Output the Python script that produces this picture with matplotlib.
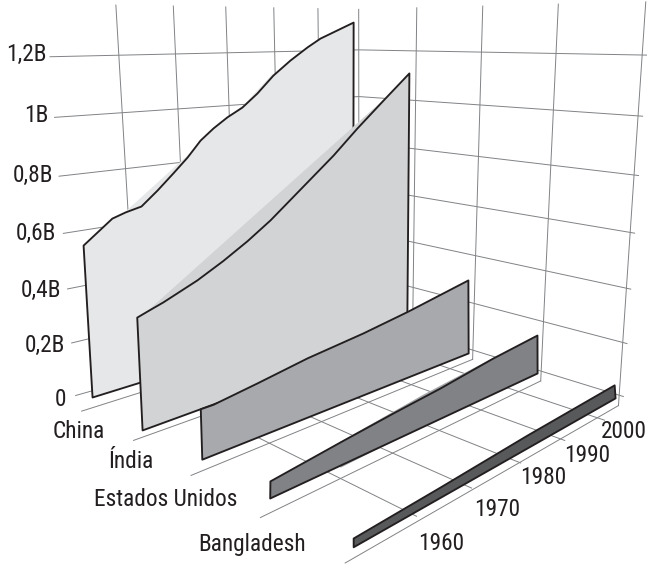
import numpy as np
import matplotlib
matplotlib.use("Agg")
import matplotlib.pyplot as plt
from mpl_toolkits.mplot3d import Axes3D
from mpl_toolkits.mplot3d.art3d import Poly3DCollection

# ---------- data ----------
china_years = [1950.7, 1955.7, 1958.0, 1960.8, 1963.8, 1966.8, 1969.6, 1972.2, 1974.8, 1977.6, 1980.7, 1983.9, 1987.4, 1991.2, 1995.1, 1998.1, 2002.1, 2006.1]
china_values = [0.562, 0.641, 0.656, 0.669, 0.719, 0.774, 0.827, 0.885, 0.926, 0.963, 0.996, 1.046, 1.112, 1.168, 1.218, 1.252, 1.284, 1.316]
india_years = [1950.6, 1952.5, 1954.9, 1960.8, 1965.5, 1970.1, 1974.6, 1981.3, 1987.8, 1993.1, 1999.2, 2005.4]
india_values = [0.378, 0.392, 0.409, 0.459, 0.508, 0.562, 0.622, 0.726, 0.827, 0.919, 1.018, 1.117]
usa_years = [1950.8, 1952.8, 1960.2, 1969.3, 1980.4, 1990.1, 2004.9]
usa_values = [0.161, 0.162, 0.186, 0.218, 0.246, 0.277, 0.333]
other_years = [1950.7, 1962.3, 1972.0, 1981.6, 1993.6, 2004.6]
other_values = [0.047, 0.080, 0.106, 0.129, 0.165, 0.190]
bangladesh_years = [1950.8, 1965.2, 1982.6, 2003.8]
bangladesh_values = [0.011, 0.034, 0.065, 0.096]

series_years = [china_years, india_years, usa_years, other_years, bangladesh_years]
series_values = [china_values, india_values, usa_values, other_values, bangladesh_values]
base_years = [(1950.4, 2005.8), (1950.4, 2005.6), (1950.7, 2005.5), (1950.6, 2005.1), (1950.8, 2004.3)]
base_values = [(0.003, 0.03), (-0.015, 0.03), (-0.005, 0.029), (-0.005, 0.039), (-0.014, 0.045)]
fills = ["#e6e7e8", "#d1d3d4", "#a7a9ac", "#808285", "#58595b"]

# far side of the ribbons, seen above the front edge: (index, years, values, colour)
back_faces = [
    (0, [1958.0, 1980.7], [0.656, 1.0], "#e6e7e8"),
    (0, [1980.7, 1987.4], [0.996, 1.118], "#e6e7e8"),
    (1, [1952.5, 1999.2], [0.392, 1.018], "#d1d3d4"),
    (3, [1962.3, 1978.0, 1993.6], [0.080, 0.128, 0.165], "#a3a5a8"),
]

value_ticks = [0, 0.2, 0.4, 0.6, 0.8, 1.0, 1.2]
value_labels = ["0", "0,2B", "0,4B", "0,6B", "0,8B", "1B", "1,2B"]
year_ticks = [1960, 1970, 1980, 1990, 2000]
year_labels = ["1960", "1970", "1980", "1990", "2000"]
country_labels = ["China", "Índia", "Estados Unidos", "Bangladesh"]
# where each country line starts (year, value)
line_start_years = [1949.8, 1950.4, 1950.6, 1951.1, 1952.0]
line_start_values = [-0.066, -0.073, -0.081, -0.095, -0.10]

# ---------- camera calibration: (year, depth, value) -> pixel ----------
calib = [
    (2010,0,1.2,360,50),(2010,0,1.0,360,97),(2010,0,0.8,359,143),(2010,0,0.6,358.5,188),
    (2010,1,1.2,416.5,52),(2010,1,1.0,416,100),(2010,1,0.8,415,148),(2010,1,0.6,415,196),(2010,1,0.4,414,241),(2010,1,0,413,331),
    (2010,2,1.2,482,53),(2010,2,1.0,480,105),(2010,2,0.8,478,156),(2010,2,0.6,477,207),(2010,2,0.4,475,256),(2010,2,0,473,349),
    (2010,3,1.2,556,54),(2010,3,1.0,552,110),(2010,3,0.8,550,164),(2010,3,0.6,548,219),(2010,3,0.4,545,271),(2010,3,0,540,370),
    (2010,4,1.2,643,56),(2010,4,1.0,638,117),(2010,4,0.8,635,173),(2010,4,0.6,630,232),(2010,4,0.4,627,288),(2010,4,0.2,623,344),(2010,4,0,620,396),
    (1960,0,1.2,115,55),(1960,0,1.0,119,113),(1960,0,0.8,122,169),
    (1970,0,1.2,174,53),(1970,0,1.0,177,109),(1970,0,0.8,180,162),
    (1980,0,1.2,227,52),(1980,0,1.0,229,105),(1990,0,1.2,275,52),(2000,0,1.2,318,51),
    (1949,0,1.2,54,56),(1949,0,1.0,58,117),(1949,0,0.8,62,175),(1949,0,0.6,64,234),
    (1949,0,0.4,67,289),(1949,0,0.2,72,344),(1949,0,0,76,397),
]
c = np.array(calib, float)
S = np.array([[1/30,0,0,-1980/30],[0,1/4,0,0],[0,0,1/1.2,0],[0,0,0,1]])
W = (S @ np.c_[c[:,:3], np.ones(len(c))].T).T
u, v = c[:,3]/600, c[:,4]/600
A = []
for w, a, b in zip(W, u, v):
    A.append(np.r_[w, 0*w, -a*w])
    A.append(np.r_[0*w, w, -b*w])
P = np.linalg.svd(np.array(A))[2][-1].reshape(3,4)
P = np.diag([600,600,1.0]) @ P @ S
PW, PH = 647, 566


class CameraAxes3D(Axes3D):
    def apply_aspect(self, position=None):
        self._set_position(self.get_position(original=True), "active")

    def get_proj(self):
        x0, y0, x1, y1 = self._viewLim.extents
        to2d = np.array([[(x1-x0)/PW, 0, x0], [0, -(y1-y0)/PH, y1], [0, 0, 1.0]])
        R = to2d @ P
        return np.array([R[0], R[1], [0, 0, 0, 1.0], R[2]])


plt.rcParams["font.family"] = ["Roboto Condensed", "Liberation Sans"]
fig = plt.figure(figsize=(6.47, 5.66), dpi=100)
ax = CameraAxes3D(fig, [0, 0, 1, 1], computed_zorder=False)
fig.add_axes(ax)
ax.set_axis_off()
ax.patch.set_visible(False)

GRID = dict(color="#808285", lw=0.7, zorder=1)
FLOOR = -0.04
TOP = 1.37
Y0, Y1 = 1949, 2010
D1 = 4.05
for val in value_ticks:
    ax.plot([Y0, Y1, Y1], [0, 0, D1], [val, val, val], **GRID)
for yr in year_ticks:
    ax.plot([yr, yr], [0, 0], [0, TOP], **GRID)
    ax.plot([yr, yr], [0, 4.25], [0, 0], **GRID)
for d, (ys, vs) in enumerate(zip(line_start_years, line_start_values)):
    ax.plot([Y1, Y1], [d, d], [FLOOR, TOP], **GRID)
    ax.plot([ys, Y1], [d, d], [vs, FLOOR], **GRID)

OFFSET = 0.18
for i, (yrs, vals, by, bv, col) in enumerate(zip(series_years, series_values, base_years, base_values, fills)):
    depth = i + OFFSET
    for j, fy, fv, fc in back_faces:
        if j == i:
            verts = list(zip(fy, [depth]*len(fy), fv)) + [(fy[-1], depth, bv[1]), (fy[0], depth, bv[0])]
            ax.add_collection3d(Poly3DCollection([verts], facecolors=fc, edgecolors="none", zorder=2+i*2))
    front = [(by[0], depth, bv[0])] + list(zip(yrs, [depth]*len(yrs), vals)) + [(by[1], depth, bv[1])]
    ax.add_collection3d(Poly3DCollection([front], facecolors=col, edgecolors="#231f20", linewidths=1.35, zorder=3+i*2))


def label(x, y, s, ha="center"):
    ax.text2D(x/PW, 1-y/PH, s, transform=ax.transAxes, ha=ha, va="center", fontsize=16.8, color="#231f20")


for s, x, y in zip(value_labels, [66, 65, 61, 56, 53, 49, 47], [400, 345, 290, 233, 175, 116, 54]):
    label(x, y, s, ha="right")
for s, x, y in zip(year_labels, [441, 497, 543, 587, 624], [544, 510, 478, 455, 431]):
    label(x, y, s)
for s, x, y in zip(country_labels, [79, 131, 166, 252], [431, 461, 500, 545]):
    label(x, y, s)

fig.savefig("out.png", dpi=100)
